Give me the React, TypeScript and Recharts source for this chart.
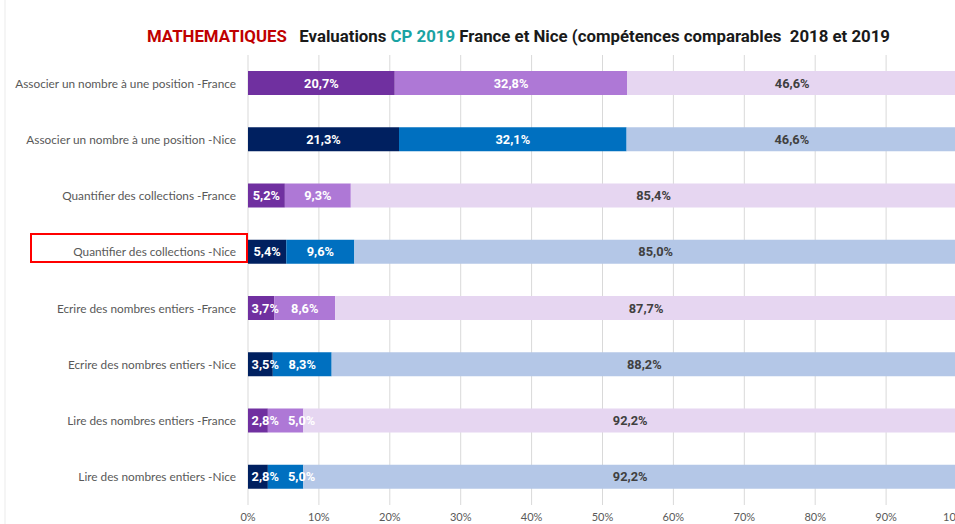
import React from 'react';
import { BarChart, Bar, XAxis, YAxis, CartesianGrid, Cell, LabelList } from 'recharts';

const categories = [
  'Associer un nombre à une position -France',
  'Associer un nombre à une position -Nice',
  'Quantifier des collections -France',
  'Quantifier des collections -Nice',
  'Ecrire des nombres entiers -France',
  'Ecrire des nombres entiers -Nice',
  'Lire des nombres entiers -France',
  'Lire des nombres entiers -Nice',
];
const level1 = [20.7, 21.3, 5.2, 5.4, 3.7, 3.5, 2.8, 2.8];
const level2 = [32.8, 32.1, 9.3, 9.6, 8.6, 8.3, 5.0, 5.0];
const level3 = [46.6, 46.6, 85.4, 85.0, 87.7, 88.2, 92.2, 92.2];
const xTicks = [0, 10, 20, 30, 40, 50, 60, 70, 80, 90, 100];

const franceColors = ['#7030A0', '#AE78D6', '#E6D6F1'];
const niceColors = ['#002060', '#0070C0', '#B4C7E7'];

const data = categories.map((c, i) => ({ name: c, l1: level1[i], l2: level2[i], l3: level3[i] }));

const fmt = (v: number) => v.toFixed(1).replace('.', ',') + '%';
const tw = (s: string) => s.length * 6.6;

const makeLabel = (s: number) => (props: any) => {
  const vb = props.viewBox || props;
  const x = Number(props.x ?? vb.x);
  const y = Number(props.y ?? vb.y);
  const w = Number(props.width ?? vb.width);
  const h = Number(props.height ?? vb.height);
  const i = props.index;
  const v = Number(props.value);
  const txt = fmt(v);
  const t = tw(txt);
  let cx = x + w / 2;
  if (s === 0) {
    cx = Math.max(cx, x + 4 + t / 2);
  } else if (s === 1 && i != null) {
    const w0 = (level1[i] / level2[i]) * w;
    const x0 = x - w0;
    const t0 = tw(fmt(level1[i]));
    const c0 = Math.max(x0 + w0 / 2, x0 + 4 + t0 / 2);
    cx = Math.max(cx, c0 + t0 / 2 + 10 + t / 2);
  }
  return (
    <text
      x={cx}
      y={y + h / 2}
      textAnchor="middle"
      dominantBaseline="central"
      fill={s === 2 ? '#404040' : '#FFFFFF'}
      fontFamily="Roboto, sans-serif"
      fontWeight={700}
      fontSize={12.8}
    >
      {txt}
    </text>
  );
};

const YTick = (props: any) => {
  const { x, y, payload } = props;
  return (
    <text
      x={236}
      y={y}
      textAnchor="end"
      dominantBaseline="central"
      fill="#595959"
      fontFamily="Lato, sans-serif"
      fontSize={11.8}
    >
      {payload.value}
    </text>
  );
};

const keys = ['l1', 'l2', 'l3'];

export default function App() {
  return (
    <div style={{ position: 'absolute', left: 0, top: 0, width: 955, height: 524, overflow: 'hidden', background: '#fff' }}>
      <BarChart
        width={1000}
        height={524}
        data={data}
        layout="vertical"
        margin={{ top: 55, right: 43, bottom: 0, left: 0 }}
        barSize={24}
      >
        <CartesianGrid horizontal={false} stroke="#D9D9D9" />
        <XAxis
          type="number"
          domain={[0, 100]}
          ticks={xTicks}
          allowDataOverflow
          tickFormatter={(v: number) => `${v}%`}
          axisLine={false}
          tickLine={false}
          height={19}
          tick={{ fill: '#595959', fontSize: 11, fontFamily: 'Lato, sans-serif' }}
        />
        <YAxis
          type="category"
          dataKey="name"
          width={248}
          axisLine={false}
          tickLine={false}
          interval={0}
          tick={<YTick />}
        />
        {keys.map((k, s) => (
          <Bar key={k} dataKey={k} stackId="a" isAnimationActive={false}>
            {data.map((d, i) => (
              <Cell key={i} fill={i % 2 === 0 ? franceColors[s] : niceColors[s]} />
            ))}
            <LabelList dataKey={k} content={makeLabel(s)} />
          </Bar>
        ))}
      </BarChart>
      <svg width={955} height={524} style={{ position: 'absolute', left: 0, top: 0, pointerEvents: 'none' }}>
        <line x1={5} y1={0} x2={5} y2={524} stroke="#EBEBEB" strokeWidth={1} />
        <text
          x={147}
          y={42}
          fontFamily="Roboto, sans-serif"
          fontWeight={700}
          fontSize={17}
          textLength={743}
          lengthAdjust="spacingAndGlyphs"
          style={{ whiteSpace: 'pre' }}
        >
          <tspan fill="#C00000">MATHEMATIQUES</tspan>
          <tspan fill="#1A1A1A">{'   Evaluations '}</tspan>
          <tspan fill="#1AA3A3">CP 2019</tspan>
          <tspan fill="#1A1A1A">{' France et Nice (compétences comparables  2018 et 2019'}</tspan>
        </text>
        <rect x={31} y={234} width={216} height={28} fill="none" stroke="#FF0000" strokeWidth={2} />
      </svg>
    </div>
  );
}
